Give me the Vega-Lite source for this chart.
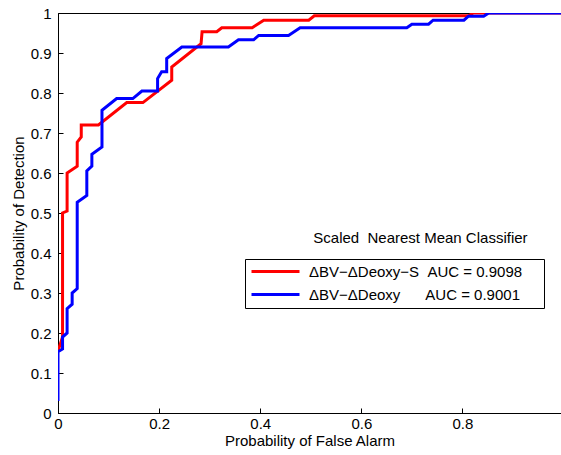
{
 "$schema": "https://vega.github.io/schema/vega-lite/v6.json",
 "width": 503, "height": 400,
 "autosize": {"type": "none"},
 "padding": {"left": 58, "top": 13, "right": 0, "bottom": 42},
 "config": {
  "view": {"stroke": "black", "strokeWidth": 1},
  "font": "Liberation Sans",
  "axis": {"grid": false, "domainColor": "black", "tickColor": "black", "labelColor": "black", "titleColor": "black", "labelFontSize": 15, "titleFontSize": 15, "titleFontWeight": "normal", "labelFont": "Liberation Sans", "titleFont": "Liberation Sans", "labelOverlap": false, "labelFlush": false}
 },
 "layer": [
  {
   "data": {"values": [
    {"series": "R", "fa": 0, "pd": 0.155},
    {"series": "R", "fa": 0.009, "pd": 0.19},
    {"series": "R", "fa": 0.009, "pd": 0.5},
    {"series": "R", "fa": 0.018, "pd": 0.505},
    {"series": "R", "fa": 0.018, "pd": 0.6},
    {"series": "R", "fa": 0.038, "pd": 0.617},
    {"series": "R", "fa": 0.038, "pd": 0.677},
    {"series": "R", "fa": 0.046, "pd": 0.69},
    {"series": "R", "fa": 0.046, "pd": 0.72},
    {"series": "R", "fa": 0.08, "pd": 0.72},
    {"series": "R", "fa": 0.136, "pd": 0.776},
    {"series": "R", "fa": 0.168, "pd": 0.776},
    {"series": "R", "fa": 0.225, "pd": 0.832},
    {"series": "R", "fa": 0.225, "pd": 0.865},
    {"series": "R", "fa": 0.283, "pd": 0.923},
    {"series": "R", "fa": 0.285, "pd": 0.953},
    {"series": "R", "fa": 0.314, "pd": 0.953},
    {"series": "R", "fa": 0.324, "pd": 0.963},
    {"series": "R", "fa": 0.384, "pd": 0.963},
    {"series": "R", "fa": 0.407, "pd": 0.982},
    {"series": "R", "fa": 0.496, "pd": 0.982},
    {"series": "R", "fa": 0.507, "pd": 0.993},
    {"series": "R", "fa": 0.812, "pd": 0.993},
    {"series": "R", "fa": 0.822, "pd": 1.0},
    {"series": "R", "fa": 1.0, "pd": 1.0},
    {"series": "B", "fa": 0, "pd": 0.03},
    {"series": "B", "fa": 0, "pd": 0.153},
    {"series": "B", "fa": 0.009, "pd": 0.16},
    {"series": "B", "fa": 0.009, "pd": 0.19},
    {"series": "B", "fa": 0.018, "pd": 0.2},
    {"series": "B", "fa": 0.018, "pd": 0.261},
    {"series": "B", "fa": 0.028, "pd": 0.272},
    {"series": "B", "fa": 0.028, "pd": 0.3},
    {"series": "B", "fa": 0.038, "pd": 0.311},
    {"series": "B", "fa": 0.038, "pd": 0.527},
    {"series": "B", "fa": 0.057, "pd": 0.544},
    {"series": "B", "fa": 0.057, "pd": 0.605},
    {"series": "B", "fa": 0.067, "pd": 0.617},
    {"series": "B", "fa": 0.067, "pd": 0.647},
    {"series": "B", "fa": 0.087, "pd": 0.665},
    {"series": "B", "fa": 0.087, "pd": 0.757},
    {"series": "B", "fa": 0.116, "pd": 0.786},
    {"series": "B", "fa": 0.148, "pd": 0.786},
    {"series": "B", "fa": 0.166, "pd": 0.805},
    {"series": "B", "fa": 0.197, "pd": 0.805},
    {"series": "B", "fa": 0.197, "pd": 0.836},
    {"series": "B", "fa": 0.205, "pd": 0.853},
    {"series": "B", "fa": 0.215, "pd": 0.853},
    {"series": "B", "fa": 0.215, "pd": 0.886},
    {"series": "B", "fa": 0.245, "pd": 0.915},
    {"series": "B", "fa": 0.337, "pd": 0.915},
    {"series": "B", "fa": 0.357, "pd": 0.933},
    {"series": "B", "fa": 0.387, "pd": 0.933},
    {"series": "B", "fa": 0.397, "pd": 0.944},
    {"series": "B", "fa": 0.456, "pd": 0.944},
    {"series": "B", "fa": 0.479, "pd": 0.963},
    {"series": "B", "fa": 0.69, "pd": 0.963},
    {"series": "B", "fa": 0.7, "pd": 0.972},
    {"series": "B", "fa": 0.733, "pd": 0.972},
    {"series": "B", "fa": 0.742, "pd": 0.982},
    {"series": "B", "fa": 0.803, "pd": 0.982},
    {"series": "B", "fa": 0.812, "pd": 0.992},
    {"series": "B", "fa": 0.842, "pd": 0.992},
    {"series": "B", "fa": 0.852, "pd": 1.0},
    {"series": "B", "fa": 1.0, "pd": 1.0}
   ]},
   "transform": [
    {"calculate": "datum.series === 'R' ? 'ΔBV−ΔDeoxy−S\u00a0\u00a0AUC = 0.9098\u00a0\u00a0\u00a0\u00a0\u200b' : 'ΔBV−ΔDeoxy\u00a0\u00a0\u00a0\u00a0\u00a0\u00a0AUC = 0.9001'", "as": "name"}
   ],
   "mark": {"type": "line", "strokeWidth": 3, "clip": true},
   "encoding": {
    "x": {"field": "fa", "type": "quantitative", "scale": {"domain": [0, 0.995], "nice": false},
      "axis": {"values": [0, 0.2, 0.4, 0.6, 0.8], "format": ".1~f", "tickSize": -5, "labelPadding": 8, "title": "Probability of False Alarm", "titlePadding": 2}},
    "y": {"field": "pd", "type": "quantitative", "scale": {"domain": [0, 1], "nice": false},
      "axis": {"values": [0, 0.1, 0.2, 0.3, 0.4, 0.5, 0.6, 0.7, 0.8, 0.9, 1], "tickCount": 11, "labelOverlap": false, "format": ".1~f", "tickSize": -5, "labelPadding": 12, "title": "Probability of Detection", "titlePadding": 4}},
    "color": {"field": "name", "type": "nominal",
      "scale": {"domain": ["ΔBV−ΔDeoxy−S\u00a0\u00a0AUC = 0.9098\u00a0\u00a0\u00a0\u00a0\u200b", "ΔBV−ΔDeoxy\u00a0\u00a0\u00a0\u00a0\u00a0\u00a0AUC = 0.9001"], "range": ["#ff0000", "#0000ff"]},
      "legend": {"orient": "none", "legendX": 187, "legendY": 246, "title": null, "strokeColor": "black", "padding": 5, "symbolType": "M-1,0H7", "symbolSize": 144, "symbolStrokeWidth": 3, "symbolFillColor": "transparent", "labelFontSize": 15, "labelFont": "Liberation Sans", "labelColor": "black", "labelOffset": 44, "labelLimit": 0, "rowPadding": 7, "fillColor": "white"}},
    "order": {"value": null}
   }
  },
  {
   "data": {"values": [{"fa": 0.505, "pd": 0.437, "label": "Scaled\u00a0\u00a0Nearest Mean Classifier"}]},
   "mark": {"type": "text", "align": "left", "baseline": "middle", "fontSize": 15, "font": "Liberation Sans", "color": "black"},
   "encoding": {
    "x": {"field": "fa", "type": "quantitative"},
    "y": {"field": "pd", "type": "quantitative"},
    "text": {"field": "label"}
   }
  }
 ]
}
